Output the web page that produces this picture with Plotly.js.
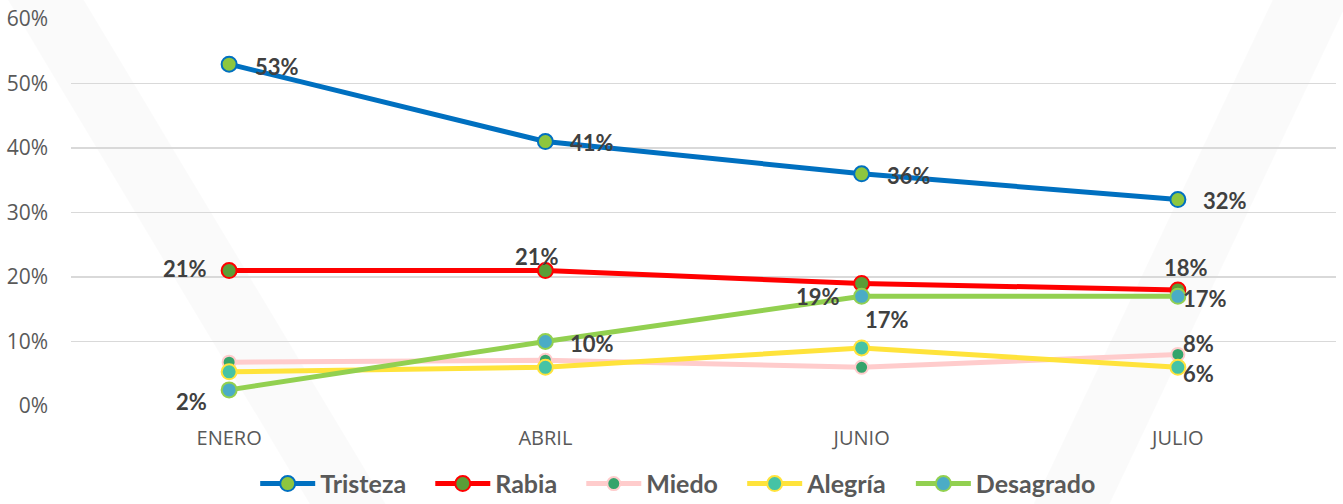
<!DOCTYPE html>
<html>
<head>
<meta charset="utf-8">
<script src="https://cdn.plot.ly/plotly-3.0.1.min.js"></script>
<style>html,body{margin:0;padding:0;background:#fff;}#chart{width:1343px;height:504px;}</style>
</head>
<body>
<div id="chart"></div>
<script>
const categories = ["ENERO", "ABRIL", "JUNIO", "JULIO"];
const tristeza = [0.53, 0.41, 0.36, 0.32];
const rabia = [0.21, 0.21, 0.19, 0.18];
const miedo = [0.068, 0.071, 0.06, 0.08];
const alegria = [0.053, 0.06, 0.09, 0.06];
const desagrado = [0.025, 0.10, 0.17, 0.17];
const tristezaLabels = ["53%", "41%", "36%", "32%"];
const rabiaLabels = ["21%", "21%", "19%", "18%"];
const miedoLabels = [null, null, null, "8%"];
const alegriaLabels = [null, null, null, "6%"];
const desagradoLabels = ["2%", "10%", "17%", "17%"];
const yTicks = [0, 0.1, 0.2, 0.3, 0.4, 0.5, 0.6];
const yTickText = ["0%", "10%", "20%", "30%", "40%", "50%", "60%"];

const series = [
  {name: "Tristeza", y: tristeza, labels: tristezaLabels, line: "#0070C0", fill: "#8DC63F", outline: "#0070C0", size: 15,
   pos: [["left",24,-2],["left",23,-1],["left",23,-2],["left",23,-1]]},
  {name: "Rabia", y: rabia, labels: rabiaLabels, line: "#FF0000", fill: "#5A9E37", outline: "#FF0000", size: 15,
   pos: [["right",-20,2],["center",-8,14],["right",-20,-13],["center",8,22]]},
  {name: "Miedo", y: miedo, labels: miedoLabels, line: "#FFCCCC", fill: "#35A46B", outline: "#FFCCCC", size: 13,
   pos: [null,null,null,["left",3,11]]},
  {name: "Alegría", y: alegria, labels: alegriaLabels, line: "#FFE33B", fill: "#45C3A5", outline: "#FFE33B", size: 15,
   pos: [null,null,null,["left",3,-6]]},
  {name: "Desagrado", y: desagrado, labels: desagradoLabels, line: "#92D050", fill: "#4BACC6", outline: "#92D050", size: 15,
   pos: [["right",-20,-12],["left",23,-2],["center",25,-23],["left",3,-2]]}
];

const traces = series.map((s, k) => ({
  type: "scatter", mode: "lines+markers",
  name: "<b>" + s.name + "</b>" + (k < series.length - 1 ? "&nbsp;&nbsp;&nbsp;" : ""),
  x: categories, y: s.y,
  line: {color: s.line, width: 5},
  marker: {size: s.size, color: s.fill, line: {color: s.outline, width: 2}},
  hoverinfo: "skip"
}));

const annotations = [];
series.forEach(s => {
  s.labels.forEach((t, i) => {
    if (t === null || !s.pos[i]) return;
    const p = s.pos[i];
    annotations.push({
      x: categories[i], y: s.y[i], xref: "x", yref: "y", text: "<b>" + t + "</b>",
      showarrow: false, xanchor: p[0], yanchor: "middle", xshift: p[1], yshift: p[2],
      font: {family: "Lato, 'Open Sans', sans-serif", size: 22, color: "#404040"}
    });
  });
});

const shapes = [
  {type: "path", xref: "paper", yref: "paper", path: "M -0.05 1.05 L 0.01 1.05 L 0.25 -0.26 L 0.19 -0.26 Z", fillcolor: "rgba(0,0,0,0.018)", line: {width: 0}, layer: "below"},
  {type: "path", xref: "paper", yref: "paper", path: "M 0.95 1.05 L 1.01 1.05 L 0.82 -0.26 L 0.76 -0.26 Z", fillcolor: "rgba(0,0,0,0.018)", line: {width: 0}, layer: "below"}
];

const layout = {
  width: 1343, height: 504,
  margin: {l: 71, r: 7, t: 19, b: 98},
  paper_bgcolor: "#ffffff", plot_bgcolor: "rgba(0,0,0,0)",
  font: {family: "'Open Sans', sans-serif", color: "#595959"},
  showlegend: true,
  legend: {orientation: "h", x: 0.48, xref: "paper", xanchor: "center", yref: "container", y: 0.04, yanchor: "middle",
    bgcolor: "rgba(0,0,0,0)",
    font: {family: "Lato, 'Open Sans', sans-serif", size: 25, color: "#595959"},
    itemwidth: 55, tracegroupgap: 0},
  xaxis: {type: "category", range: [-0.5, 3.5], showgrid: false, zeroline: false, showline: false,
    ticks: "", tickfont: {family: "'Open Sans', sans-serif", size: 20, color: "#595959"}, ticklabelstandoff: 18, fixedrange: true},
  yaxis: {range: [0, 0.6], tickvals: yTicks, ticktext: yTickText, showgrid: true, gridcolor: "#D9D9D9",
    gridwidth: 1.5, zeroline: false, showline: false, ticks: "", ticklabelstandoff: 22,
    tickfont: {family: "'Open Sans', sans-serif", size: 21, color: "#595959"}, fixedrange: true},
  annotations: annotations,
  shapes: shapes
};

Plotly.newPlot("chart", traces, layout, {displayModeBar: false, staticPlot: true});
</script>
</body>
</html>
